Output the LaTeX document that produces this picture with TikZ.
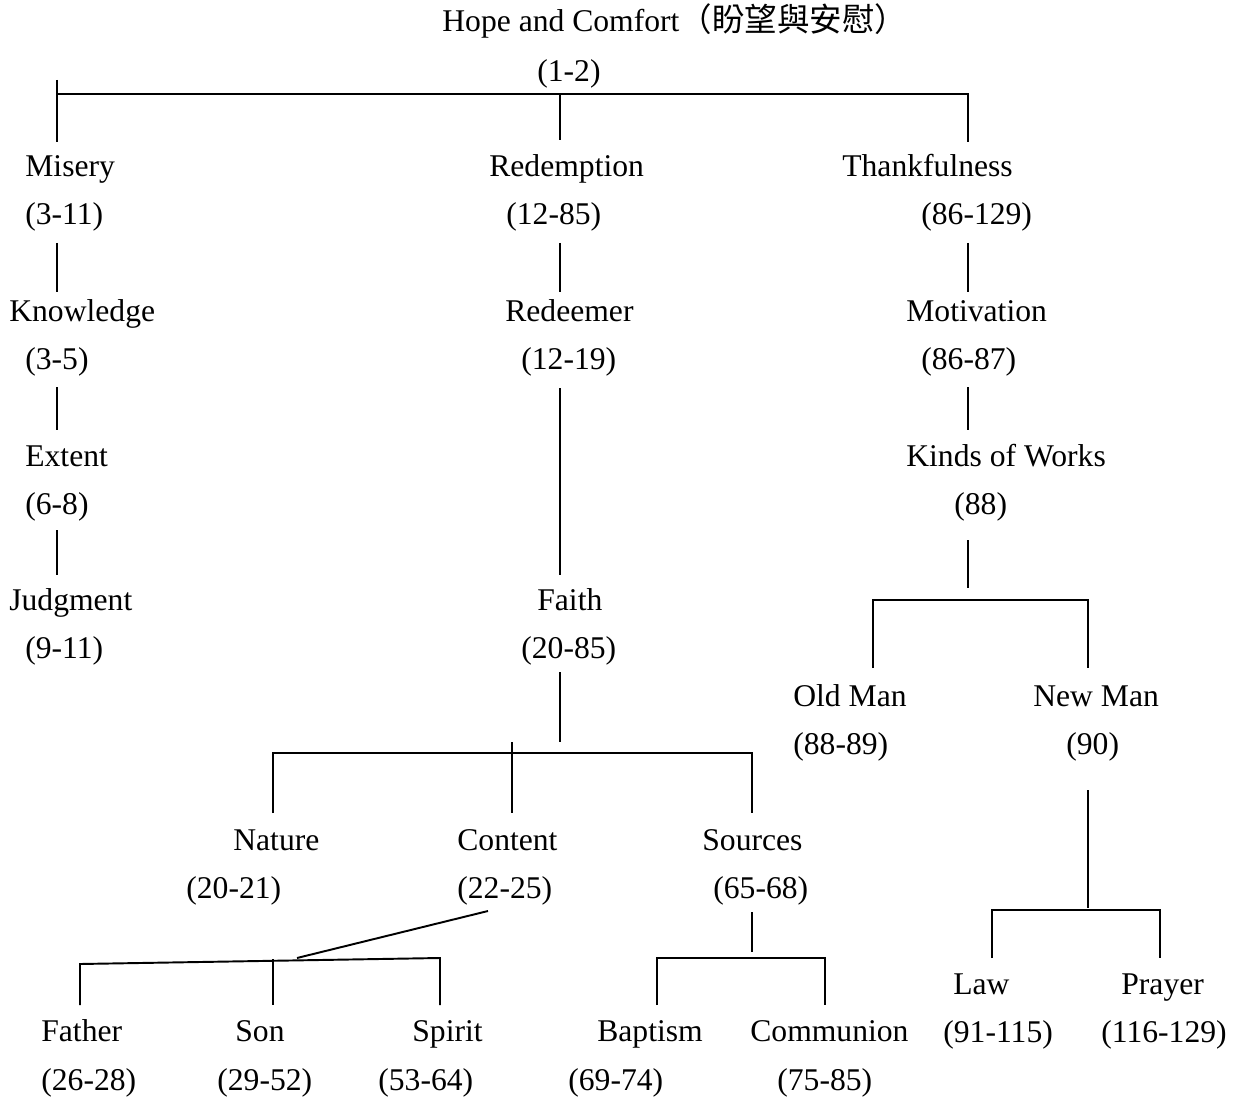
\documentclass[tikz,border=0pt]{standalone}
\usepackage{fontspec}
\setmainfont{Liberation Serif}
\newfontfamily\cjk{Noto Sans CJK TC}
\usetikzlibrary{positioning}
\tikzstyle{lbl} = [
    anchor=base west,
    inner sep=0pt
]
\tikzstyle{link} = [
    line width=1.1pt
]

\begin{document}
\begin{tikzpicture}[x=0.02cm, y=-0.02cm, font=\fontsize{18}{21}\selectfont]
\useasboundingbox (0,0) rectangle (1244,1098);

% root
\node[lbl] (hope)   at (442,32)  {Hope and Comfort{\cjk\fontsize{18.5}{21}\selectfont（盼望與安慰）}};
\node[lbl] (hopeR)  at (537,82)  {(1-2)};

% misery column
\node[lbl] (misery)  at (25,177)  {Misery};
\node[lbl] (miseryR) at (25,225)  {(3-11)};
\node[lbl] (know)    at (9,321)   {Knowledge};
\node[lbl] (knowR)   at (25,369)  {(3-5)};
\node[lbl] (extent)  at (25,466)  {Extent};
\node[lbl] (extentR) at (25,514)  {(6-8)};
\node[lbl] (judg)    at (9,610)   {Judgment};
\node[lbl] (judgR)   at (25,658)  {(9-11)};

% redemption column
\node[lbl] (redemp)   at (489,177) {Redemption};
\node[lbl] (redempR)  at (506,225) {(12-85)};
\node[lbl] (redeem)   at (505,321) {Redeemer};
\node[lbl] (redeemR)  at (521,369) {(12-19)};
\node[lbl] (faith)    at (537,610) {Faith};
\node[lbl] (faithR)   at (521,658) {(20-85)};
\node[lbl] (nature)   at (233,850) {Nature};
\node[lbl] (natureR)  at (186,898) {(20-21)};
\node[lbl] (content)  at (457,850) {Content};
\node[lbl] (contentR) at (457,898) {(22-25)};
\node[lbl] (sources)  at (702,850) {Sources};
\node[lbl] (sourcesR) at (713,898) {(65-68)};
\node[lbl] (father)   at (41,1041)  {Father};
\node[lbl] (fatherR)  at (41,1090)  {(26-28)};
\node[lbl] (son)      at (235,1041) {Son};
\node[lbl] (sonR)     at (217,1090) {(29-52)};
\node[lbl] (spirit)   at (412,1041) {Spirit};
\node[lbl] (spiritR)  at (378,1090) {(53-64)};
\node[lbl] (baptism)  at (597,1041) {Baptism};
\node[lbl] (baptismR) at (568,1090) {(69-74)};
\node[lbl] (commun)   at (750,1041) {Communion};
\node[lbl] (communR)  at (777,1090) {(75-85)};

% thankfulness column
\node[lbl] (thank)   at (842,177)  {Thankfulness};
\node[lbl] (thankR)  at (921,225)  {(86-129)};
\node[lbl] (motiv)   at (906,321)  {Motivation};
\node[lbl] (motivR)  at (921,369)  {(86-87)};
\node[lbl] (kinds)   at (906,466)  {Kinds of Works};
\node[lbl] (kindsR)  at (954,514)  {(88)};
\node[lbl] (oldman)  at (793,706)  {Old Man};
\node[lbl] (oldmanR) at (793,754)  {(88-89)};
\node[lbl] (newman)  at (1033,706) {New Man};
\node[lbl] (newmanR) at (1066,754) {(90)};
\node[lbl] (law)     at (953,994)  {Law};
\node[lbl] (lawR)    at (943,1042) {(91-115)};
\node[lbl] (prayer)  at (1121,994) {Prayer};
\node[lbl] (prayerR) at (1101,1042) {(116-129)};

% joints
\coordinate (rootTop) at (57,80);
\coordinate (rootBar) at (57,94);
\coordinate (miseryIn) at (57,142);
\coordinate (redempIn) at (560,140);
\coordinate (thankIn) at (968,142);
\coordinate (miseryOut) at (57,243);
\coordinate (knowIn) at (57,292);
\coordinate (knowOut) at (57,387);
\coordinate (extentIn) at (57,430);
\coordinate (extentOut) at (57,530);
\coordinate (judgIn) at (57,575);
\coordinate (redempOut) at (560,243);
\coordinate (redeemIn) at (560,292);
\coordinate (redeemOut) at (560,388);
\coordinate (faithIn) at (560,575);
\coordinate (faithOut) at (560,672);
\coordinate (faithEnd) at (560,742);
\coordinate (faithBar) at (273,753);
\coordinate (natureIn) at (273,813);
\coordinate (contentTop) at (512,742);
\coordinate (contentIn) at (512,813);
\coordinate (sourcesIn) at (752,813);
\coordinate (contentOut) at (488,911);
\coordinate (trinity) at (297,958);
\coordinate (fatherBar) at (80,964);
\coordinate (fatherIn) at (80,1005);
\coordinate (sonTop) at (273,959);
\coordinate (sonIn) at (273,1005);
\coordinate (spiritBar) at (440,958);
\coordinate (spiritIn) at (440,1005);
\coordinate (sourcesOut) at (752,912);
\coordinate (sourcesEnd) at (752,952);
\coordinate (sacramBar) at (657,958);
\coordinate (baptismIn) at (657,1005);
\coordinate (communIn) at (825,1005);
\coordinate (thankOut) at (968,243);
\coordinate (motivIn) at (968,292);
\coordinate (motivOut) at (968,387);
\coordinate (kindsIn) at (968,430);
\coordinate (kindsOut) at (968,540);
\coordinate (kindsEnd) at (968,588);
\coordinate (worksBar) at (873,600);
\coordinate (oldmanIn) at (873,668);
\coordinate (newmanIn) at (1088,668);
\coordinate (newmanOut) at (1088,790);
\coordinate (newmanEnd) at (1088,908);
\coordinate (lifeBar) at (992,910);
\coordinate (lawIn) at (992,958);
\coordinate (prayerIn) at (1160,958);

% connectors
\draw[link] (rootTop) -- (miseryIn);
\draw[link] (rootBar) -| (thankIn);
\draw[link] (redempIn |- rootBar) -- (redempIn);

\draw[link] (miseryOut) -- (knowIn);
\draw[link] (knowOut) -- (extentIn);
\draw[link] (extentOut) -- (judgIn);

\draw[link] (redempOut) -- (redeemIn);
\draw[link] (redeemOut) -- (faithIn);
\draw[link] (faithOut) -- (faithEnd);
\draw[link] (natureIn) |- (sourcesIn |- faithBar) -- (sourcesIn);
\draw[link] (contentTop) -- (contentIn);
\draw[link] (contentOut) -- (trinity);
\draw[link] (fatherIn) -- (fatherBar) -- (spiritBar) -- (spiritIn);
\draw[link] (sonTop) -- (sonIn);
\draw[link] (sourcesOut) -- (sourcesEnd);
\draw[link] (baptismIn) |- (communIn |- sacramBar) -- (communIn);

\draw[link] (thankOut) -- (motivIn);
\draw[link] (motivOut) -- (kindsIn);
\draw[link] (kindsOut) -- (kindsEnd);
\draw[link] (oldmanIn) |- (newmanIn |- worksBar) -- (newmanIn);
\draw[link] (newmanOut) -- (newmanEnd);
\draw[link] (lawIn) |- (prayerIn |- lifeBar) -- (prayerIn);
\end{tikzpicture}
\end{document}
